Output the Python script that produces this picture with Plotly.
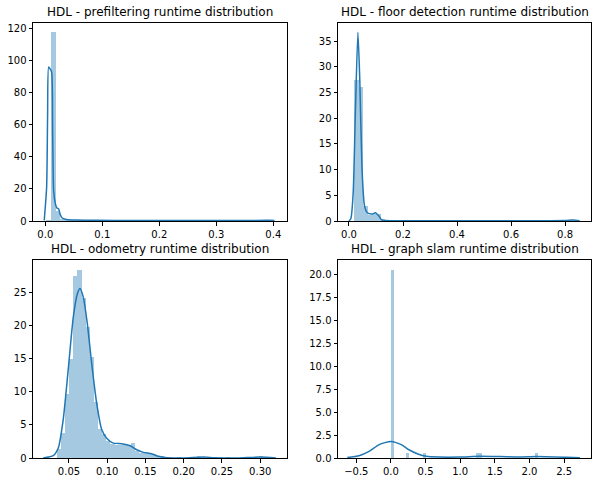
import numpy as np
import plotly.graph_objects as go
from plotly.subplots import make_subplots

# histogram heights (density), 50 bins each
pre_range = [0.002, 0.399]
pre_hist = [0.3, 117.5, 6.5, 1.2, 0.4, 0.2, 0.1, 0.1, 0.1, 0.05,
            0.05, 0.05, 0.1, 0.05, 0.05, 0.05, 0.05, 0.1, 0.05, 0.05,
            0.05, 0.05, 0.05, 0.1, 0.05, 0.05, 0.05, 0.05, 0.05, 0.05,
            0.1, 0.05, 0.05, 0.05, 0.05, 0.05, 0.05, 0.05, 0.1, 0.05,
            0.05, 0.05, 0.05, 0.05, 0.05, 0.05, 0.05, 0.05, 0.05, 0.1]
pre_kde_x = [-0.0019, 0.0023, 0.004, 0.0058, 0.008, 0.011, 0.0129, 0.0146, 0.0175,
             0.02, 0.0234, 0.0257, 0.029, 0.037, 0.055, 0.09, 0.15, 0.25, 0.35, 0.39, 0.402]
pre_kde_y = [0.4, 21, 65, 96, 95, 93, 55, 19, 11,
             8.3, 7.5, 4.6, 2, 1, 0.6, 0.4, 0.35, 0.3, 0.3, 0.4, 0.3]

floor_range = [0.02, 0.834]
floor_hist = [27.5, 26, 3, 1.2, 1.3, 1.3, 0.3, 0.1, 0.05, 0.05,
              0.05, 0.05, 0.05, 0.05, 0.05, 0.05, 0.05, 0.05, 0.05, 0.05,
              0.05, 0.05, 0.05, 0.05, 0.05, 0.05, 0.05, 0.05, 0.05, 0.05,
              0.05, 0.05, 0.05, 0.05, 0.05, 0.05, 0.05, 0.05, 0.05, 0.05,
              0.05, 0.05, 0.05, 0.05, 0.05, 0.05, 0.05, 0.05, 0.1, 0.1]
floor_kde_x = [0.0, 0.007, 0.0155, 0.0235, 0.033, 0.04, 0.048, 0.057, 0.068,
               0.086, 0.098, 0.11, 0.121, 0.135, 0.2, 0.4, 0.6, 0.8, 0.83, 0.854]
floor_kde_y = [0, 0.5, 5.4, 20.9, 36.7, 27.3, 10.5, 3.1, 1.6,
               1.36, 1.6, 1.0, 0.2, 0.1, 0.05, 0.05, 0.05, 0.1, 0.2, 0.05]

odo_range = [0.034, 0.304]
odo_hist = [1.3, 3.8, 9.7, 15, 27.5, 28.4, 24.2, 19.8, 15.3, 8.4,
            4.4, 3.7, 2.5, 2.1, 2.0, 2.0, 2.0, 2.0, 2.3, 1.0,
            0.8, 0.7, 0.6, 0.4, 0.2, 0.2, 0.1, 0.1, 0, 0.1,
            0, 0, 0.1, 0.1, 0.2, 0.1, 0, 0, 0, 0,
            0, 0.1, 0, 0, 0, 0, 0.1, 0, 0.1, 0.2]
odo_kde_x = [0.0164, 0.0295, 0.036, 0.0425, 0.049, 0.0557, 0.061, 0.0644, 0.0687,
             0.074, 0.0797, 0.0862, 0.0928, 0.0993, 0.108, 0.119, 0.13, 0.1386,
             0.1473, 0.158, 0.167, 0.178, 0.2, 0.226, 0.24, 0.27, 0.3, 0.3205]
odo_kde_y = [0, 0.35, 1.5, 5.8, 13.3, 21.3, 24.8, 25.6, 24.3,
             20.3, 14.3, 8.3, 4.3, 3.0, 2.25, 2.15, 1.85, 1.25,
             0.85, 0.65, 0.25, 0.05, 0, 0.15, 0.05, 0, 0.15, 0]

slam_range = [0.0, 2.12]
slam_hist = [20.5, 0, 0, 0, 0, 0.59, 0, 0, 0, 0,
             0, 0.59, 0, 0, 0, 0, 0, 0, 0, 0,
             0, 0, 0, 0, 0, 0, 0, 0, 0, 0.59,
             0.59, 0, 0, 0, 0, 0, 0, 0, 0, 0,
             0, 0, 0, 0, 0, 0, 0, 0, 0, 0.59]
slam_kde_x = [-0.63, -0.46, -0.315, -0.17, 0.0, 0.15, 0.26, 0.39, 0.51, 0.7,
              0.99, 1.28, 1.57, 1.86, 2.1, 2.53, 2.73]
slam_kde_y = [0.05, 0.25, 0.72, 1.45, 1.81, 1.45, 0.9, 0.43, 0.18, 0.1,
              0.1, 0.18, 0.15, 0.1, 0.15, 0.07, 0.02]

titles = ["HDL - prefiltering runtime distribution",
          "HDL - floor detection runtime distribution",
          "HDL - odometry runtime distribution",
          "HDL - graph slam runtime distribution"]

panels = [
    (pre_range, pre_hist, pre_kde_x, pre_kde_y),
    (floor_range, floor_hist, floor_kde_x, floor_kde_y),
    (odo_range, odo_hist, odo_kde_x, odo_kde_y),
    (slam_range, slam_hist, slam_kde_x, slam_kde_y),
]

fig = make_subplots(rows=2, cols=2)

for i, (rng, hist, kx, ky) in enumerate(panels):
    r, c = i // 2 + 1, i % 2 + 1
    edges = np.linspace(rng[0], rng[1], len(hist) + 1)
    centers = (edges[:-1] + edges[1:]) / 2
    fig.add_trace(go.Bar(x=centers, y=hist, width=edges[1] - edges[0],
                         marker=dict(color="#a5c9e1", line_width=0),
                         showlegend=False), row=r, col=c)
    fig.add_trace(go.Scatter(x=kx, y=ky, mode="lines",
                             line=dict(color="#1f77b4", width=1.5, shape="spline", smoothing=0.6),
                             showlegend=False), row=r, col=c)

W, H = 601, 482
xdom = [[33 / W, 287 / W], [338 / W, 591 / W]]
ydom = [[1 - 221 / H, 1 - 23 / H], [1 - 458 / H, 1 - 260 / H]]

xranges = [[-0.0216, 0.424], [-0.0407, 0.896], [0.003, 0.335], [-0.764, 2.888]]
yranges = [[0, 123.4], [0, 38.5], [0, 29.9], [0, 21.56]]
xticks = [[0, 0.1, 0.2, 0.3, 0.4], [0, 0.2, 0.4, 0.6, 0.8],
          [0.05, 0.1, 0.15, 0.2, 0.25, 0.3], [-0.5, 0, 0.5, 1, 1.5, 2, 2.5]]
xfmt = [".1f", ".1f", ".2f", ".1f"]
yticks = [[0, 20, 40, 60, 80, 100, 120], [0, 5, 10, 15, 20, 25, 30, 35],
          [0, 5, 10, 15, 20, 25], [0, 2.5, 5, 7.5, 10, 12.5, 15, 17.5, 20]]
yfmt = ["d", "d", "d", ".1f"]

axis_style = dict(showgrid=False, zeroline=False, showline=True, mirror=True,
                  linecolor="black", linewidth=1, ticks="outside", ticklen=3.5,
                  tickwidth=0.8, tickcolor="black", automargin=False,
                  tickfont=dict(family="DejaVu Sans", size=10, color="black"))

annotations = []
for i in range(4):
    r, c = i // 2, i % 2
    n = "" if i == 0 else str(i + 1)
    fig.layout["xaxis" + n].update(domain=xdom[c], range=xranges[i], tickvals=xticks[i],
                                   tickformat=xfmt[i], **axis_style)
    fig.layout["yaxis" + n].update(domain=ydom[r], range=yranges[i], tickvals=yticks[i],
                                   tickformat=yfmt[i], **axis_style)
    annotations.append(dict(text=titles[i], xref="paper", yref="paper",
                            x=sum(xdom[c]) / 2, y=ydom[r][1], xanchor="center",
                            yanchor="bottom", yshift=2, showarrow=False,
                            font=dict(family="DejaVu Sans", size=12, color="black")))

fig.update_layout(width=W, height=H, margin=dict(l=0, r=0, t=0, b=0),
                  paper_bgcolor="white", plot_bgcolor="white",
                  bargap=0, annotations=annotations)

# drop the default 8px body margin so the figure fills the window
fig.write_html("out.html", config={"displayModeBar": False},
               post_script="document.body.style.margin = '0';")
